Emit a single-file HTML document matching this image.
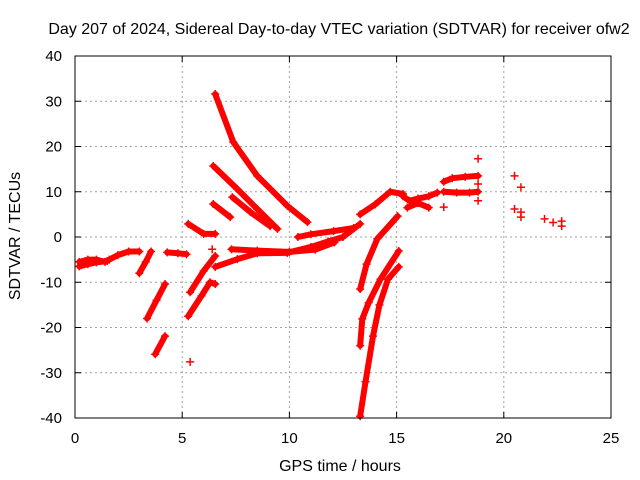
<!DOCTYPE html>
<html><head><meta charset="utf-8"><style>
body{margin:0;background:#fff}
svg{display:block;font-family:"Liberation Sans",sans-serif}
</style></head><body>
<svg id="chart" width="640" height="480">
<rect width="640" height="480" fill="#fff"/>
<text x="339" y="34" text-anchor="middle" font-size="16">Day 207 of 2024, Sidereal Day-to-day VTEC variation (SDTVAR) for receiver ofw2</text>
<text x="340" y="471" text-anchor="middle" font-size="16">GPS time / hours</text>
<text transform="translate(20,236) rotate(-90)" text-anchor="middle" font-size="16">SDTVAR / TECUs</text>
<g id="grid"></g><g id="marks"></g><g id="axes"></g>
</svg>
<script>
const xTicks=[0,5,10,15,20,25];
const yTicks=[-40,-30,-20,-10,0,10,20,30,40];
const trackStart=[[0.2,-6.5],[0.6,-6],[1.0,-5.6],[1.5,-5.3]];
const trackStart2=[[0.2,-5.5],[0.6,-5],[1.0,-5],[1.4,-5.5]];
const trackA=[[1.6,-5],[2.0,-4],[2.5,-3.2],[3.0,-3.2]];
const trackB=[[3.55,-3.2],[3.3,-5.5],[3.0,-8]];
const trackC=[[4.3,-3.4],[4.8,-3.6],[5.2,-3.8]];
const trackD=[[3.36,-18],[3.8,-14],[4.2,-10.4]];
const trackE=[[3.74,-25.9],[4.2,-21.9]];
const trackF=[[5.37,-27.6]];
const trackG=[[5.28,2.9],[6.0,0.7],[6.54,0.7]];
const trackH=[[5.37,-12.2],[6.0,-7.5],[6.54,-4.2]];
const trackI=[[5.28,-17.5],[5.9,-13],[6.3,-10],[6.54,-10.4]];
const trackJ=[[6.4,-2.7]];
const trackK=[[6.54,31.6],[7.38,21],[8.5,13.5],[9.9,6.9],[10.84,3.3]];
const trackL=[[6.45,15.7],[7.57,10.6],[8.5,6.2],[9.44,1.8]];
const trackM=[[7.34,8.8],[8.18,5.5],[9.1,2.4]];
const trackN=[[6.45,7.3],[7.24,4.4]];
const trackO=[[6.54,-6.6],[7.57,-4.9],[8.5,-3.6],[9.9,-3.5],[11,-2.2],[11.8,-1],[12.5,0],[13.3,2.9]];
const trackP=[[7.3,-2.7],[8.5,-3],[10,-3.3],[11.2,-2.8],[12.1,-1.2]];
const trackQ=[[10.4,0],[11,0.6],[12.06,1.3],[13,2]];
const trackR=[[13.3,5],[14.0,7.2],[14.7,10],[15.3,9.5]];
const trackS=[[15.3,9],[15.6,8],[16,8.5],[16.5,9],[16.9,9.8]];
const trackS2=[[15.5,6.5],[16,7.5],[16.5,6.5]];
const trackT=[[17.2,12.2],[17.6,13],[18.2,13.3],[18.8,13.5]];
const trackU=[[17.2,10],[17.8,9.8],[18.4,9.8],[18.8,10]];
const trackV=[[18.8,8],[18.8,11.7],[18.8,17.3],[17.2,6.6]];
const trackW=[[20.5,13.5],[20.8,11],[20.5,6.2],[20.8,5.5],[20.8,4.4]];
const trackX=[[21.9,4],[22.3,3.2],[22.7,2.4],[22.7,3.5]];
const trackY=[[15.05,4.6],[14.1,-0.4],[13.6,-6],[13.3,-11.5]];
const trackZ=[[15.1,-3.1],[14.25,-9.3],[13.7,-14.5],[13.4,-18.1],[13.3,-24]];
const trackZ2=[[15.1,-6.6],[14.6,-9.3],[14.2,-15],[13.9,-21.9],[13.55,-32],[13.3,-39.6]];
const lines=[trackStart,trackStart2,trackA,trackB,trackC,trackD,trackE,trackG,trackH,trackI,trackK,trackL,trackM,trackN,trackO,trackP,trackQ,trackR,trackS,trackS2,trackT,trackU,trackY,trackZ,trackZ2];
const dots=[trackF,trackJ,trackV,trackW,trackX];
const X0=75,X1=611,Y0=418,Y1=56;
const sx=t=>X0+(t-0)/(25-0)*(X1-X0);
const sy=v=>Y0-(v+40)/80*(Y0-Y1);
const NS="http://www.w3.org/2000/svg";
function mk(tag,attrs,parent){const e=document.createElementNS(NS,tag);for(const k in attrs)e.setAttribute(k,attrs[k]);parent.appendChild(e);return e;}
const grid=document.getElementById('grid'),marks=document.getElementById('marks'),axes=document.getElementById('axes');
xTicks.forEach(t=>{
 if(t>0&&t<25){const l=mk('line',{x1:sx(t),x2:sx(t),y1:Y0,y2:Y1,stroke:'#a0a0a0','stroke-dasharray':'2,3'},grid);
 
 }
 const a=mk('line',{x1:sx(t),x2:sx(t),y1:Y0,y2:Y0-6,stroke:'#000'},axes);
 const b=mk('line',{x1:sx(t),x2:sx(t),y1:Y1,y2:Y1+6,stroke:'#000'},axes);
 const tx=mk('text',{x:sx(t),y:443,'text-anchor':'middle','font-size':15},axes);tx.textContent=t;
 
 
});
yTicks.forEach(v=>{
 if(v>-40&&v<40){const l=mk('line',{x1:X0,x2:X1,y1:sy(v),y2:sy(v),stroke:'#a0a0a0','stroke-dasharray':'2,3'},grid);
 
 }
 const a=mk('line',{x1:X0,x2:X0+6,y1:sy(v),y2:sy(v),stroke:'#000'},axes);
 const b=mk('line',{x1:X1,x2:X1-6,y1:sy(v),y2:sy(v),stroke:'#000'},axes);
 const tx=mk('text',{x:62,y:sy(v)+5,'text-anchor':'end','font-size':15},axes);tx.textContent=v;
 
 
});
const fr=mk('rect',{x:X0,y:Y1,width:X1-X0,height:Y0-Y1,fill:'none',stroke:'#000'},axes);


function plus(t,v,g){const x=sx(t),y=sy(v);
 const p=mk('path',{d:`M${x-4} ${y}H${x+4}M${x} ${y-4}V${y+4}`,stroke:'#f00','stroke-width':1.5},g);
 
 }
lines.forEach(tr=>{
 const g=mk('g',{},marks);
 const pl=mk('polyline',{points:tr.map(p=>sx(p[0])+','+sy(p[1])).join(' '),fill:'none',stroke:'#f00','stroke-width':6,'stroke-linecap':'round','stroke-linejoin':'round'},g);
 
 
 tr.forEach(p=>plus(p[0],p[1],g));
});
dots.forEach(tr=>{
 const g=mk('g',{},marks);
 tr.forEach(p=>plus(p[0],p[1],g));
});
</script>
</body></html>
